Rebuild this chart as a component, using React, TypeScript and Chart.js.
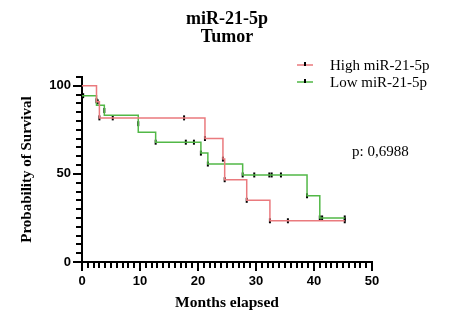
import React, { useEffect, useRef } from 'react';
import { Chart, registerables } from 'chart.js';

Chart.register(...registerables);

const titleLines = ['miR-21-5p', 'Tumor'];
const seriesNames = ['High miR-21-5p', 'Low miR-21-5p'];
const pValueText = 'p: 0,6988';
const xAxisTitle = 'Months elapsed';
const yAxisTitle = 'Probability of Survival';

const highTimes = [0, 2.5, 3.0, 21.2, 24.3, 24.6, 28.4, 32.4, 45.3];
const highSurvival = [100, 90.9, 81.8, 70.1, 58.4, 46.7, 35.0, 23.4, 23.4];
const highCensorTimes = [2.7, 3.0, 5.3, 17.6, 21.2, 24.3, 24.6, 28.4, 32.4, 35.5, 45.3];
const highCensorValues = [90.9, 81.8, 81.8, 81.8, 70.1, 58.4, 46.7, 35.0, 23.4, 23.4, 23.4];

const lowTimes = [0, 2.5, 3.85, 9.7, 12.7, 20.5, 21.7, 27.7, 38.8, 41.0, 45.3];
const lowSurvival = [94.4, 88.9, 83.3, 73.6, 68.0, 61.8, 55.6, 49.4, 37.6, 25.0, 25.0];
const lowCensorTimes = [0.2, 2.5, 3.85, 9.7, 12.7, 17.9, 19.3, 20.5, 21.7, 27.7, 29.7, 32.3, 32.7, 34.3, 38.8, 41.0, 41.4, 45.3];
const lowCensorValues = [94.4, 91.5, 86.0, 78.5, 68.0, 68.0, 68.0, 61.8, 55.6, 49.4, 49.4, 49.4, 49.4, 49.4, 37.6, 25.0, 25.0, 25.0];

const xMin = 0;
const xMax = 50;
const xMajorStep = 10;
const xMinorStep = 1;
const yMin = 0;
const yMax = 105;
const yMajorStep = 50;
const yMinorStep = 5;

const RED = '#EA7A7E';
const GREEN = '#52B847';
const SERIF = '"Liberation Serif", "Times New Roman", serif';
const SANS = '"Liberation Sans", Arial, sans-serif';

const toPoints = (xs: number[], ys: number[]) => xs.map((x, i) => ({ x, y: ys[i] }));

const decorPlugin = {
  id: 'decor',
  afterDraw(chart: any) {
    const ctx = chart.ctx;
    const area = chart.chartArea;
    const xs = chart.scales.x;
    const ys = chart.scales.y;
    ctx.save();
    ctx.fillStyle = '#000';
    const nx = Math.round((xMax - xMin) / xMinorStep);
    const xEvery = Math.round(xMajorStep / xMinorStep);
    for (let i = 0; i <= nx; i++) {
      const v = xMin + i * xMinorStep;
      const px = Math.round(xs.getPixelForValue(v));
      const len = i % xEvery === 0 ? 9 : 6;
      ctx.fillRect(px - 1, Math.round(area.bottom), 2, len);
    }
    const ny = Math.round((yMax - yMin) / yMinorStep);
    const yEvery = Math.round(yMajorStep / yMinorStep);
    for (let i = 0; i <= ny; i++) {
      const v = yMin + i * yMinorStep;
      const py = Math.round(ys.getPixelForValue(v));
      const len = i % yEvery === 0 ? 9 : 6;
      ctx.fillRect(Math.round(area.left) - len, py - 1, len, 2);
    }
    // title
    const cx = (area.left + area.right) / 2;
    ctx.fillStyle = '#000';
    ctx.textAlign = 'center';
    ctx.textBaseline = 'alphabetic';
    ctx.font = `bold 18px ${SERIF}`;
    ctx.fillText(titleLines[0], cx, 24);
    ctx.fillText(titleLines[1], cx, 42);
    // legend
    const legendColors = [RED, GREEN];
    const legendY = [65, 82];
    ctx.textAlign = 'left';
    ctx.textBaseline = 'middle';
    ctx.font = `15px ${SERIF}`;
    for (let i = 0; i < 2; i++) {
      ctx.fillStyle = legendColors[i];
      ctx.fillRect(297, legendY[i] - 0.75, 16, 1.5);
      ctx.fillStyle = '#000';
      ctx.fillRect(304, legendY[i] - 3, 2, 4);
      ctx.fillText(seriesNames[i], 330, legendY[i] + 1);
    }
    ctx.fillStyle = '#000';
    ctx.font = `15px ${SERIF}`;
    ctx.fillText(pValueText, 352, 152);
    ctx.restore();
  },
};

export default function App() {
  const ref = useRef<HTMLCanvasElement | null>(null);
  useEffect(() => {
    if (!ref.current) return;
    const tickCommon = {
      showLine: false,
      pointStyle: 'line',
      pointRotation: 90,
      pointRadius: 2.5,
      pointBorderWidth: 2,
      pointBorderColor: '#000',
      pointBackgroundColor: '#000',
      borderColor: '#000',
      pointHoverRadius: 0,
    };
    const chart = new Chart(ref.current, {
      type: 'line',
      data: {
        datasets: [
          {
            label: seriesNames[0],
            data: toPoints(highTimes, highSurvival),
            borderColor: RED,
            borderWidth: 1.5,
            stepped: 'before',
            pointRadius: 0,
            fill: false,
          },
          {
            label: seriesNames[1],
            data: toPoints(lowTimes, lowSurvival),
            borderColor: GREEN,
            borderWidth: 1.5,
            stepped: 'before',
            pointRadius: 0,
            fill: false,
          },
          { ...tickCommon, label: 'high censored', data: toPoints(highCensorTimes, highCensorValues) },
          { ...tickCommon, label: 'low censored', data: toPoints(lowCensorTimes, lowCensorValues) },
        ] as any,
      },
      options: {
        responsive: false,
        animation: false,
        events: [],
        layout: { padding: { left: 0, right: 79, top: 77, bottom: 0 } },
        plugins: {
          legend: { display: false },
          title: { display: false },
          tooltip: { enabled: false },
        },
        scales: {
          x: {
            type: 'linear',
            min: xMin,
            max: xMax,
            grid: { display: false, drawTicks: false },
            border: { display: true, color: '#000', width: 2 },
            ticks: {
              stepSize: xMajorStep,
              color: '#000',
              font: { family: SANS, size: 13, weight: 'bold' },
              padding: 12,
              maxRotation: 0,
            },
            title: {
              display: true,
              text: xAxisTitle,
              color: '#000',
              font: { family: SERIF, size: 15.5, weight: 'bold' },
              padding: { top: 0, bottom: 3 },
            },
            afterFit: (s: any) => {
              s.height = 53;
            },
          },
          y: {
            type: 'linear',
            min: yMin,
            max: yMax,
            grid: { display: false, drawTicks: false },
            border: { display: true, color: '#000', width: 2 },
            ticks: {
              stepSize: yMinorStep,
              autoSkip: false,
              color: '#000',
              font: { family: SANS, size: 13, weight: 'bold' },
              padding: 11,
              callback: (v: any) => (Number(v) % yMajorStep === 0 ? String(v) : ''),
            },
            title: {
              display: true,
              text: yAxisTitle,
              color: '#000',
              font: { family: SERIF, size: 15, weight: 'bold' },
              padding: { top: 18, bottom: 0 },
            },
            afterFit: (s: any) => {
              s.width = 82;
            },
          },
        },
      } as any,
      plugins: [decorPlugin],
    });
    return () => chart.destroy();
  }, []);
  return (
    <div style={{ position: 'absolute', left: 0, top: 0, width: 451, height: 315, background: '#fff' }}>
      <canvas ref={ref} width={451} height={315} style={{ display: 'block', width: 451, height: 315 }} />
    </div>
  );
}
